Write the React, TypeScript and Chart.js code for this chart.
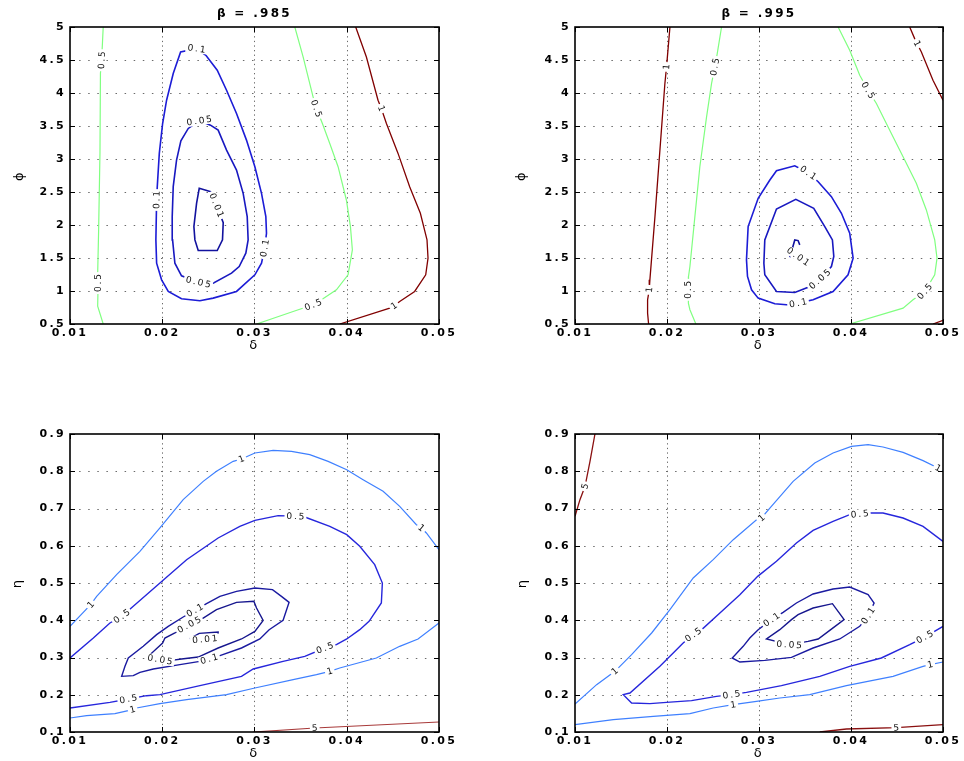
import React, { useEffect, useRef } from "react";
import { Chart, registerables } from "chart.js";

Chart.register(...registerables);

type P = [number, number];
type Lbl = { x: number; y: number; t: string; a?: number };

// ---------- axis ticks ----------
const deltaTicks = [0.01, 0.02, 0.03, 0.04, 0.05];
const phiTicks = [0.5, 1, 1.5, 2, 2.5, 3, 3.5, 4, 4.5, 5];
const etaTicks = [0.1, 0.2, 0.3, 0.4, 0.5, 0.6, 0.7, 0.8, 0.9];

// ---------- top-left: beta = .985 (delta vs phi) ----------
const tlGreenLeft: P[] = [[0.0136, 5], [0.01343, 4.496], [0.0133, 4.3], [0.01325, 3.1], [0.0131, 1.9], [0.013, 1.27], [0.01305, 1.12], [0.013, 0.77], [0.0136, 0.5]];
const tlBlue01: P[] = [[0.02372, 4.672], [0.02473, 4.572], [0.02596, 4.345], [0.02697, 4.042], [0.02805, 3.69], [0.02913, 3.286], [0.03004, 2.883], [0.03076, 2.48], [0.03123, 2.127], [0.0313, 1.875], [0.0311, 1.648], [0.03076, 1.421], [0.03004, 1.245], [0.02805, 0.993], [0.02552, 0.892], [0.02408, 0.852], [0.02209, 0.882], [0.02065, 0.993], [0.01993, 1.169], [0.01939, 1.421], [0.01931, 1.774], [0.01939, 2.379], [0.01946, 2.581], [0.01968, 3.085], [0.02004, 3.538], [0.02047, 3.891], [0.02119, 4.294], [0.02199, 4.622], [0.02372, 4.672]];
const tlBlue005: P[] = [[0.02401, 3.579], [0.02523, 3.513], [0.02606, 3.437], [0.02697, 3.135], [0.02805, 2.833], [0.02877, 2.48], [0.02921, 2.127], [0.02931, 1.774], [0.02906, 1.573], [0.02834, 1.371], [0.02751, 1.27], [0.02552, 1.119], [0.0239, 1.134], [0.02209, 1.23], [0.02137, 1.421], [0.02112, 1.774], [0.02108, 2.127], [0.02119, 2.581], [0.02155, 2.984], [0.02202, 3.276], [0.02282, 3.463], [0.02401, 3.579]];
const tlBlue001: P[] = [[0.02527, 2.505], [0.02401, 2.556], [0.02372, 2.329], [0.02343, 1.976], [0.02354, 1.774], [0.0239, 1.613], [0.02596, 1.613], [0.02653, 1.774], [0.02661, 2.036], [0.02588, 2.3], [0.02527, 2.505]];
const tlGreenRight: P[] = [[0.03437, 5], [0.03527, 4.546], [0.03635, 3.942], [0.03671, 3.765], [0.03736, 3.538], [0.03816, 3.236], [0.03906, 2.883], [0.03996, 2.379], [0.0404, 1.976], [0.04061, 1.623], [0.04014, 1.245], [0.03888, 1.018], [0.03726, 0.867], [0.03635, 0.791], [0.03419, 0.69], [0.03022, 0.5]];
const tlMaroon: P[] = [[0.04097, 5], [0.04213, 4.546], [0.04339, 3.891], [0.04375, 3.765], [0.0443, 3.538], [0.04556, 3.085], [0.04682, 2.581], [0.04798, 2.177], [0.0487, 1.774], [0.04881, 1.497], [0.04856, 1.245], [0.04736, 0.993], [0.04574, 0.842], [0.04513, 0.776], [0.04466, 0.741], [0.03924, 0.5]];
const tlLabels: Lbl[] = [
  { x: 0.01343, y: 4.496, t: "0.5" }, { x: 0.01305, y: 1.12, t: "0.5" },
  { x: 0.02372, y: 4.672, t: "0.1" }, { x: 0.0311, y: 1.648, t: "0.1" }, { x: 0.01939, y: 2.379, t: "0.1" },
  { x: 0.02401, y: 3.579, t: "0.05" }, { x: 0.0239, y: 1.134, t: "0.05" },
  { x: 0.02588, y: 2.3, t: "0.01" },
  { x: 0.03671, y: 3.765, t: "0.5" }, { x: 0.03635, y: 0.791, t: "0.5" },
  { x: 0.04375, y: 3.765, t: "1" }, { x: 0.04513, y: 0.776, t: "1" },
];

// ---------- top-right: beta = .995 (delta vs phi) ----------
const trMaroonLeft: P[] = [[0.02032, 5], [0.01995, 4.395], [0.01977, 4.143], [0.01923, 3.135], [0.01869, 2.127], [0.01814, 1.169], [0.01807, 1.018], [0.01789, 0.867], [0.01789, 0.665], [0.018, 0.5]];
const trGreenLeft: P[] = [[0.02593, 5], [0.02546, 4.597], [0.0252, 4.395], [0.02484, 4.143], [0.0243, 3.639], [0.02357, 2.883], [0.02303, 2.127], [0.02249, 1.371], [0.02234, 1.22], [0.02231, 1.018], [0.02234, 0.816], [0.02249, 0.716], [0.02314, 0.5]];
const trGreenRight: P[] = [[0.0386, 5], [0.03986, 4.647], [0.04095, 4.269], [0.04186, 4.042], [0.04276, 3.841], [0.04421, 3.437], [0.04566, 3.034], [0.0471, 2.631], [0.04819, 2.228], [0.0491, 1.774], [0.04935, 1.497], [0.0491, 1.245], [0.04801, 0.993], [0.04674, 0.867], [0.04566, 0.741], [0.03986, 0.5]];
const trMaroonRight: P[] = [[0.04638, 5], [0.04692, 4.824], [0.04718, 4.748], [0.04765, 4.622], [0.04891, 4.194], [0.05, 3.891]];
const trMaroonCorner: P[] = [[0.04891, 0.5], [0.05, 0.555]];
const trBlue01: P[] = [[0.03534, 2.792], [0.03643, 2.656], [0.03787, 2.43], [0.03896, 2.177], [0.03986, 1.875], [0.04023, 1.497], [0.03968, 1.245], [0.03805, 0.993], [0.03588, 0.867], [0.03425, 0.816], [0.03299, 0.791], [0.03172, 0.806], [0.02991, 0.892], [0.02919, 1.018], [0.02875, 1.22], [0.02864, 1.472], [0.02882, 1.976], [0.02991, 2.404], [0.03118, 2.681], [0.0319, 2.823], [0.03389, 2.898], [0.03534, 2.792]];
const trBlue005: P[] = [[0.03661, 1.179], [0.03787, 1.371], [0.03813, 1.522], [0.03798, 1.774], [0.03715, 1.976], [0.03595, 2.253], [0.034, 2.389], [0.0319, 2.243], [0.03063, 1.774], [0.03053, 1.421], [0.03063, 1.245], [0.0319, 0.993], [0.03389, 0.978], [0.03534, 1.058], [0.03661, 1.179]];
const trBlue001: P[] = [[0.03443, 1.699], [0.03425, 1.764], [0.03389, 1.774], [0.03335, 1.512]];
const trLabels: Lbl[] = [
  { x: 0.01995, y: 4.395, t: "1" }, { x: 0.01807, y: 1.018, t: "1" },
  { x: 0.0252, y: 4.395, t: "0.5" }, { x: 0.02231, y: 1.018, t: "0.5" },
  { x: 0.04186, y: 4.042, t: "0.5" }, { x: 0.04801, y: 0.993, t: "0.5" },
  { x: 0.04718, y: 4.748, t: "1" },
  { x: 0.03534, y: 2.792, t: "0.1" }, { x: 0.03425, y: 0.816, t: "0.1" },
  { x: 0.03661, y: 1.179, t: "0.05" },
  { x: 0.03425, y: 1.522, t: "0.01", a: 35 },
];

// ---------- bottom-left: delta vs eta ----------
const blLight1Up: P[] = [[0.01, 0.3837], [0.01224, 0.4418], [0.01289, 0.4642], [0.01505, 0.5224], [0.01758, 0.585], [0.01975, 0.6477], [0.02227, 0.7237], [0.02444, 0.7729], [0.02588, 0.7998], [0.02769, 0.8266], [0.02859, 0.8329], [0.03004, 0.849], [0.03202, 0.8562], [0.03401, 0.8535], [0.03599, 0.8445], [0.03798, 0.8266], [0.04, 0.8042], [0.04177, 0.7774], [0.04394, 0.7461], [0.04574, 0.7058], [0.04755, 0.6566], [0.04809, 0.6477], [0.04863, 0.6342], [0.05, 0.5895]];
const blBlue05: P[] = [[0.01, 0.2987], [0.01253, 0.3524], [0.01433, 0.3926], [0.0156, 0.4105], [0.01686, 0.4374], [0.01975, 0.5], [0.02264, 0.5626], [0.02606, 0.6208], [0.02841, 0.6521], [0.03004, 0.6682], [0.03256, 0.6808], [0.03444, 0.679], [0.03545, 0.6772], [0.03816, 0.6521], [0.04, 0.6298], [0.04141, 0.5984], [0.04303, 0.5492], [0.04386, 0.5], [0.04375, 0.4463], [0.04242, 0.3971], [0.04141, 0.3747], [0.04, 0.3497], [0.03888, 0.3345], [0.03762, 0.3255], [0.03545, 0.3031], [0.0331, 0.2897], [0.02986, 0.2691], [0.02859, 0.2494], [0.02408, 0.2244], [0.01975, 0.2002], [0.0183, 0.1975], [0.01632, 0.1886], [0.01433, 0.1796], [0.01, 0.1644]];
const blNavy01: P[] = [[0.02354, 0.4266], [0.0248, 0.4445], [0.02625, 0.4642], [0.02805, 0.4776], [0.03004, 0.4866], [0.03195, 0.4821], [0.03292, 0.4642], [0.03375, 0.4481], [0.0331, 0.3998], [0.03159, 0.3747], [0.03058, 0.3497], [0.02859, 0.3255], [0.02625, 0.3049], [0.02509, 0.296], [0.02408, 0.2897], [0.02191, 0.2808], [0.01903, 0.2691], [0.01758, 0.2602], [0.01686, 0.2512], [0.0156, 0.2494], [0.01596, 0.2763], [0.01632, 0.2987], [0.01794, 0.33], [0.01939, 0.3613], [0.02065, 0.3837], [0.02227, 0.4087], [0.02354, 0.4266]];
const blNavy005: P[] = [[0.02292, 0.3881], [0.02444, 0.406], [0.02588, 0.4284], [0.02805, 0.4481], [0.02993, 0.4508], [0.03022, 0.4329], [0.03094, 0.3998], [0.03004, 0.3702], [0.02859, 0.3497], [0.02606, 0.3255], [0.0239, 0.3013], [0.02209, 0.296], [0.02101, 0.2924], [0.01975, 0.2942], [0.01848, 0.3031], [0.02004, 0.3389], [0.02029, 0.3523], [0.02137, 0.3658], [0.02292, 0.3881]];
const blNavy001: P[] = [[0.023, 0.3507], [0.02401, 0.3649], [0.02606, 0.3685], [0.02606, 0.3577], [0.02462, 0.3489], [0.023, 0.3507]];
const blLight1Low: P[] = [[0.01, 0.1376], [0.0118, 0.1438], [0.01487, 0.1492], [0.01679, 0.16], [0.01722, 0.1644], [0.01975, 0.1761], [0.02264, 0.1868], [0.02697, 0.2002], [0.03004, 0.2181], [0.03419, 0.2405], [0.03672, 0.2539], [0.03816, 0.2629], [0.03924, 0.2718], [0.04321, 0.2987], [0.04574, 0.33], [0.04773, 0.3497], [0.05, 0.3926]];
const blRed5: P[] = [[0.02986, 0.1], [0.03653, 0.1107], [0.05, 0.1268]];
const blLabels: Lbl[] = [
  { x: 0.01224, y: 0.4418, t: "1" }, { x: 0.02859, y: 0.8329, t: "1" }, { x: 0.04809, y: 0.6477, t: "1" },
  { x: 0.0156, y: 0.4105, t: "0.5" }, { x: 0.03444, y: 0.679, t: "0.5" }, { x: 0.03762, y: 0.3255, t: "0.5" }, { x: 0.01632, y: 0.1886, t: "0.5" },
  { x: 0.02354, y: 0.4266, t: "0.1" }, { x: 0.02509, y: 0.296, t: "0.1" },
  { x: 0.02292, y: 0.3881, t: "0.05" }, { x: 0.01975, y: 0.2942, t: "0.05" },
  { x: 0.02462, y: 0.3489, t: "0.01" },
  { x: 0.01679, y: 0.16, t: "1" }, { x: 0.03816, y: 0.2629, t: "1" },
  { x: 0.03653, y: 0.1107, t: "5" },
];

// ---------- bottom-right: delta vs eta ----------
const brRed5Up: P[] = [[0.01, 0.679], [0.01054, 0.7237], [0.01109, 0.7595], [0.01163, 0.8266], [0.01217, 0.9]];
const brLight1Up: P[] = [[0.01, 0.1752], [0.01235, 0.2271], [0.01434, 0.2629], [0.01615, 0.3076], [0.01833, 0.3658], [0.02032, 0.4284], [0.02285, 0.5134], [0.02502, 0.5626], [0.0272, 0.6163], [0.02973, 0.67], [0.03027, 0.6745], [0.03118, 0.7013], [0.03371, 0.7729], [0.03606, 0.8221], [0.03805, 0.849], [0.04005, 0.8669], [0.04186, 0.8714], [0.04348, 0.8651], [0.04566, 0.8508], [0.04783, 0.8284], [0.04946, 0.8087], [0.05, 0.7998]];
const brBlue05: P[] = [[0.05, 0.6119], [0.04783, 0.6521], [0.04566, 0.6745], [0.04348, 0.6879], [0.04186, 0.6879], [0.04095, 0.6852], [0.03986, 0.6834], [0.03805, 0.6655], [0.03588, 0.6414], [0.03407, 0.6074], [0.0319, 0.5582], [0.02986, 0.5179], [0.02792, 0.4687], [0.02575, 0.4195], [0.02357, 0.3702], [0.02285, 0.3613], [0.02176, 0.3389], [0.01923, 0.2763], [0.01597, 0.2047], [0.01525, 0.2002], [0.01615, 0.1779], [0.01814, 0.1761], [0.01995, 0.1796], [0.02267, 0.1841], [0.02538, 0.1957], [0.02701, 0.2002], [0.02864, 0.2065], [0.03244, 0.2244], [0.03661, 0.2494], [0.03986, 0.2763], [0.0433, 0.2987], [0.04638, 0.3345], [0.04801, 0.355], [0.05, 0.3837]];
const brNavy01: P[] = [[0.03136, 0.4016], [0.03262, 0.4213], [0.03407, 0.4463], [0.03588, 0.4705], [0.03805, 0.4839], [0.03986, 0.4893], [0.04186, 0.4687], [0.04251, 0.4463], [0.04186, 0.4123], [0.04095, 0.3837], [0.03878, 0.3497], [0.03588, 0.3255], [0.03353, 0.3004], [0.03063, 0.2924], [0.02792, 0.2879], [0.02709, 0.2987], [0.02828, 0.33], [0.029, 0.3523], [0.02991, 0.3747], [0.03136, 0.4016]];
const brNavy005: P[] = [[0.03534, 0.3434], [0.03643, 0.3497], [0.03769, 0.3729], [0.03925, 0.4016], [0.03798, 0.4445], [0.03588, 0.4329], [0.03425, 0.415], [0.03353, 0.4016], [0.03226, 0.3747], [0.03081, 0.3497], [0.03328, 0.3345], [0.03534, 0.3434]];
const brLight1Low: P[] = [[0.01, 0.1197], [0.01416, 0.1331], [0.01851, 0.1421], [0.02249, 0.1492], [0.02502, 0.1644], [0.0272, 0.1734], [0.02973, 0.1823], [0.03226, 0.1913], [0.03552, 0.2002], [0.0395, 0.2244], [0.04457, 0.2494], [0.04783, 0.2763], [0.04862, 0.2808], [0.05, 0.2879]];
const brRed5Low: P[] = [[0.03661, 0.1], [0.0395, 0.108], [0.04493, 0.1116], [0.05, 0.1197]];
const brLabels: Lbl[] = [
  { x: 0.01109, y: 0.7595, t: "5" },
  { x: 0.01434, y: 0.2629, t: "1" }, { x: 0.03027, y: 0.6745, t: "1" }, { x: 0.04946, y: 0.8087, t: "1" },
  { x: 0.04095, y: 0.6852, t: "0.5" }, { x: 0.02285, y: 0.3613, t: "0.5" }, { x: 0.02701, y: 0.2002, t: "0.5" }, { x: 0.04801, y: 0.355, t: "0.5" },
  { x: 0.03136, y: 0.4016, t: "0.1" }, { x: 0.04186, y: 0.4123, t: "0.1" },
  { x: 0.03328, y: 0.3345, t: "0.05" },
  { x: 0.0272, y: 0.1734, t: "1" }, { x: 0.04862, y: 0.2808, t: "1" },
  { x: 0.04493, y: 0.1116, t: "5" },
];

// ---------- styles ----------
const FONT = "'DejaVu Sans', 'Liberation Sans', sans-serif";
const GREEN = "#80ff80";
const MAROON = "#800000";
const BLUE_A = "#1c1cd6";
const BLUE_B = "#1818c0";
const BLUE_C = "#12129e";
const LIGHT = "#3f80ff";
const MID = "#2626dc";
const NAVY = "#1a1aa0";
const NAVY2 = "#16168e";
const RED_L = "#a83a3a";
const RED_D = "#8a1010";

type Line = { pts: P[]; color: string; w: number };
type PanelDef = {
  left: number; top: number; w: number; h: number;
  areaLeft: number; areaRight: number; areaTop: number; areaBottom: number;
  title?: string; yLabel: string; yTicks: number[]; yTitleX: number; xTitleY: number;
  lines: Line[]; labels: Lbl[];
};

const panels: PanelDef[] = [
  {
    left: 0, top: 0, w: 482, h: 360, areaLeft: 70, areaRight: 439, areaTop: 27, areaBottom: 324,
    title: "β = .985", yLabel: "ϕ", yTicks: phiTicks, yTitleX: 20, xTitleY: 346,
    lines: [
      { pts: tlGreenLeft, color: GREEN, w: 1.2 }, { pts: tlGreenRight, color: GREEN, w: 1.2 },
      { pts: tlMaroon, color: MAROON, w: 1.3 },
      { pts: tlBlue01, color: BLUE_A, w: 1.6 }, { pts: tlBlue005, color: BLUE_B, w: 1.6 }, { pts: tlBlue001, color: BLUE_C, w: 1.6 },
    ],
    labels: tlLabels,
  },
  {
    left: 482, top: 0, w: 482, h: 360, areaLeft: 93, areaRight: 461, areaTop: 27, areaBottom: 324,
    title: "β = .995", yLabel: "ϕ", yTicks: phiTicks, yTitleX: 40, xTitleY: 346,
    lines: [
      { pts: trMaroonLeft, color: MAROON, w: 1.3 }, { pts: trMaroonRight, color: MAROON, w: 1.3 }, { pts: trMaroonCorner, color: MAROON, w: 1.3 },
      { pts: trGreenLeft, color: GREEN, w: 1.2 }, { pts: trGreenRight, color: GREEN, w: 1.2 },
      { pts: trBlue01, color: BLUE_A, w: 1.6 }, { pts: trBlue005, color: BLUE_B, w: 1.6 }, { pts: trBlue001, color: BLUE_C, w: 1.6 },
    ],
    labels: trLabels,
  },
  {
    left: 0, top: 407, w: 482, h: 354, areaLeft: 70, areaRight: 439, areaTop: 27, areaBottom: 325,
    yLabel: "η", yTicks: etaTicks, yTitleX: 18, xTitleY: 347,
    lines: [
      { pts: blLight1Up, color: LIGHT, w: 1.2 }, { pts: blLight1Low, color: LIGHT, w: 1.2 },
      { pts: blBlue05, color: MID, w: 1.4 },
      { pts: blNavy01, color: NAVY, w: 1.4 }, { pts: blNavy005, color: NAVY2, w: 1.4 }, { pts: blNavy001, color: NAVY2, w: 1.4 },
      { pts: blRed5, color: RED_L, w: 1.2 },
    ],
    labels: blLabels,
  },
  {
    left: 482, top: 407, w: 482, h: 354, areaLeft: 93, areaRight: 461, areaTop: 27, areaBottom: 325,
    yLabel: "η", yTicks: etaTicks, yTitleX: 41, xTitleY: 347,
    lines: [
      { pts: brRed5Up, color: RED_D, w: 1.3 }, { pts: brRed5Low, color: RED_D, w: 1.3 },
      { pts: brLight1Up, color: LIGHT, w: 1.2 }, { pts: brLight1Low, color: LIGHT, w: 1.2 },
      { pts: brBlue05, color: MID, w: 1.4 },
      { pts: brNavy01, color: NAVY, w: 1.4 }, { pts: brNavy005, color: NAVY2, w: 1.4 },
    ],
    labels: brLabels,
  },
];

const fmt = (v: number) => String(Number(v.toFixed(3)));

function labelAngle(p: PanelDef, xs: any, ys: any, px: number, py: number): number {
  let best = Infinity;
  let ang = 0;
  for (const ln of p.lines) {
    const pix = ln.pts.map(([x, y]) => [xs.getPixelForValue(x), ys.getPixelForValue(y)]);
    const n = pix.length;
    const closed = n > 2 && ln.pts[0][0] === ln.pts[n - 1][0] && ln.pts[0][1] === ln.pts[n - 1][1];
    for (let i = 0; i < n; i++) {
      const d = Math.hypot(pix[i][0] - px, pix[i][1] - py);
      if (d < best) {
        best = d;
        const a = i > 0 ? pix[i - 1] : closed ? pix[n - 2] : pix[i];
        const b = i < n - 1 ? pix[i + 1] : closed ? pix[1] : pix[i];
        ang = Math.atan2(b[1] - a[1], b[0] - a[0]);
      }
    }
  }
  if (ang >= Math.PI / 2 - 1e-6) ang -= Math.PI;
  if (ang < -Math.PI / 2 - 1e-6) ang += Math.PI;
  return ang;
}

function matlabPlugin(p: PanelDef) {
  return {
    id: "matlabLook",
    beforeDraw(chart: any) {
      chart.ctx.letterSpacing = "2.3px";
    },
    beforeDatasetsDraw(chart: any) {
      const { ctx, chartArea: a, scales } = chart;
      const xs = scales.x, ys = scales.y;
      ctx.save();
      ctx.strokeStyle = "#6a6a6a";
      ctx.lineWidth = 1;
      ctx.setLineDash([1.3, 3.3]);
      for (const v of deltaTicks) {
        const px = Math.round(xs.getPixelForValue(v)) + 0.5;
        if (px <= a.left + 2 || px >= a.right - 2) continue;
        ctx.beginPath(); ctx.moveTo(px, a.top); ctx.lineTo(px, a.bottom); ctx.stroke();
      }
      ctx.setLineDash([1.5, 7.6]);
      for (const v of p.yTicks) {
        const py = Math.round(ys.getPixelForValue(v)) + 0.5;
        if (py <= a.top + 2 || py >= a.bottom - 2) continue;
        ctx.beginPath(); ctx.moveTo(a.left, py); ctx.lineTo(a.right, py); ctx.stroke();
      }
      ctx.restore();
    },
    afterDatasetsDraw(chart: any) {
      const { ctx, chartArea: a, scales } = chart;
      const xs = scales.x, ys = scales.y;
      // contour labels
      ctx.save();
      ctx.beginPath();
      ctx.rect(a.left, a.top, a.right - a.left, a.bottom - a.top);
      ctx.clip();
      const sp = 1.8;
      ctx.letterSpacing = sp + "px";
      ctx.font = `9px ${FONT}`;
      ctx.textBaseline = "middle";
      ctx.textAlign = "left";
      for (const l of p.labels) {
        const px = xs.getPixelForValue(l.x);
        const py = ys.getPixelForValue(l.y);
        const ang = l.a !== undefined ? (l.a * Math.PI) / 180 : labelAngle(p, xs, ys, px, py);
        const w = ctx.measureText(l.t).width - sp;
        ctx.save();
        ctx.translate(px, py);
        ctx.rotate(ang);
        ctx.fillStyle = "#ffffff";
        ctx.fillRect(-w / 2 - 2, -4.5, w + 4, 9);
        ctx.fillStyle = "#111111";
        ctx.fillText(l.t, -w / 2, 0.5);
        ctx.restore();
      }
      ctx.restore();
      // box and inward ticks
      ctx.save();
      ctx.setLineDash([]);
      ctx.strokeStyle = "#000";
      ctx.lineWidth = 1;
      const tl = 5;
      for (const v of deltaTicks) {
        const px = Math.round(xs.getPixelForValue(v)) + 0.5;
        ctx.beginPath();
        ctx.moveTo(px, a.bottom); ctx.lineTo(px, a.bottom - tl);
        ctx.moveTo(px, a.top); ctx.lineTo(px, a.top + tl);
        ctx.stroke();
      }
      for (const v of p.yTicks) {
        const py = Math.round(ys.getPixelForValue(v)) + 0.5;
        ctx.beginPath();
        ctx.moveTo(a.left, py); ctx.lineTo(a.left + tl, py);
        ctx.moveTo(a.right, py); ctx.lineTo(a.right - tl, py);
        ctx.stroke();
      }
      ctx.lineWidth = 1.6;
      ctx.strokeRect(a.left, a.top, a.right - a.left, a.bottom - a.top);
      ctx.restore();
    },
  };
}

function buildConfig(p: PanelDef): any {
  const yMin = p.yTicks[0];
  const yMax = p.yTicks[p.yTicks.length - 1];
  const tickFont = { family: FONT, size: 11, weight: "bold" };
  const axTitleFont = { family: FONT, size: 13, lineHeight: 1 };
  return {
    type: "scatter",
    data: {
      datasets: p.lines.map((ln) => ({
        data: ln.pts.map(([x, y]) => ({ x, y })),
        showLine: true,
        borderColor: ln.color,
        backgroundColor: ln.color,
        borderWidth: ln.w,
        pointRadius: 0,
        pointHoverRadius: 0,
        fill: false,
        tension: 0,
      })),
    },
    options: {
      animation: false,
      responsive: false,
      maintainAspectRatio: false,
      devicePixelRatio: 1,
      events: [],
      layout: { padding: { left: 0, right: p.w - p.areaRight, top: p.title ? 0 : p.areaTop, bottom: 0 } },
      plugins: {
        legend: { display: false },
        tooltip: { enabled: false },
        title: {
          display: !!p.title,
          text: p.title || "",
          color: "#000",
          font: { family: FONT, size: 12, weight: "bold", lineHeight: 1.2 },
          padding: { top: 6.8, bottom: p.areaTop - 6.8 - 14.4 },
          fullSize: false,
        },
      },
      scales: {
        x: {
          type: "linear",
          min: 0.01,
          max: 0.05,
          afterBuildTicks: (s: any) => { s.ticks = deltaTicks.map((v) => ({ value: v })); },
          afterFit: (s: any) => { s.height = p.h - p.areaBottom; },
          grid: { display: false, drawTicks: false },
          border: { display: false },
          ticks: { font: tickFont, color: "#000", padding: 3, maxRotation: 0, autoSkip: false, callback: (v: number) => Number(v).toFixed(2) },
          title: { display: true, text: "δ", color: "#000", font: axTitleFont, padding: { top: 0, bottom: p.h - p.xTitleY - 6.5 } },
        },
        y: {
          type: "linear",
          min: yMin,
          max: yMax,
          afterBuildTicks: (s: any) => { s.ticks = p.yTicks.map((v) => ({ value: v })); },
          afterFit: (s: any) => { s.width = p.areaLeft; },
          grid: { display: false, drawTicks: false },
          border: { display: false },
          ticks: { font: tickFont, color: "#000", padding: 4, autoSkip: false, callback: (v: number) => fmt(Number(v)) },
          title: { display: true, text: p.yLabel, color: "#000", font: axTitleFont, padding: { top: p.yTitleX - 6.5, bottom: 0 } },
        },
      },
    },
    plugins: [matlabPlugin(p)],
  };
}

function Panel({ p }: { p: PanelDef }) {
  const ref = useRef<HTMLCanvasElement>(null);
  useEffect(() => {
    const chart = new Chart(ref.current as HTMLCanvasElement, buildConfig(p));
    return () => chart.destroy();
  }, [p]);
  return (
    <canvas
      ref={ref}
      width={p.w}
      height={p.h}
      style={{ position: "absolute", left: p.left, top: p.top, width: p.w, height: p.h }}
    />
  );
}

export default function App() {
  return (
    <div style={{ position: "fixed", left: 0, top: 0, width: 964, height: 761, background: "#fff", overflow: "hidden" }}>
      {panels.map((p, i) => (
        <Panel key={i} p={p} />
      ))}
    </div>
  );
}
